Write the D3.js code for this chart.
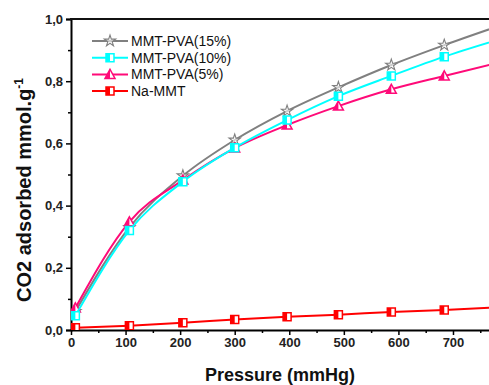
<!DOCTYPE html>
<html>
<head>
<meta charset="utf-8">
<script src="https://cdn.jsdelivr.net/npm/d3@7"></script>
<style>
  body { margin: 0; background: #fff; }
  svg { display: block; font-family: Arial, "Liberation Sans", sans-serif; }
</style>
</head>
<body>
<div id="chart"></div>
<script>
// pressure (mmHg) of the measured points; the last one lies just past the right edge
const pressure = [8, 107, 205, 300, 396, 490, 587, 684, 780];
const pva15 = [0.060, 0.330, 0.496, 0.611, 0.704, 0.780, 0.852, 0.916, 0.975];
const pva10 = [0.046, 0.320, 0.477, 0.586, 0.675, 0.752, 0.817, 0.879, 0.932];
const pva5 = [0.071, 0.348, 0.482, 0.585, 0.659, 0.720, 0.774, 0.817, 0.858];
const naMMT = [0.007, 0.014, 0.023, 0.034, 0.043, 0.049, 0.058, 0.064, 0.073];
const seriesNames = ['MMT-PVA(15%)', 'MMT-PVA(10%)', 'MMT-PVA(5%)', 'Na-MMT'];
const xTicks = [0, 100, 200, 300, 400, 500, 600, 700];
const yTicks = [0, 0.2, 0.4, 0.6, 0.8, 1.0];

const width = 489;
const height = 385;
const margin = {top: 19, right: 0, bottom: 55, left: 71};

const series = [
  {name: seriesNames[0], values: pva15, color: '#808080', symbol: 'star'},
  {name: seriesNames[1], values: pva10, color: '#00ffff', symbol: 'square'},
  {name: seriesNames[2], values: pva5, color: '#ff0a78', symbol: 'triangle'},
  {name: seriesNames[3], values: naMMT, color: '#ff0000', symbol: 'square'}
];

const x = d3.scaleLinear().domain([0, 766]).range([margin.left, width - margin.right]);
const y = d3.scaleLinear().domain([0, 1.0]).range([height - margin.bottom, margin.top]);

const svg = d3.select('#chart')
  .append('svg')
  .attr('width', width)
  .attr('height', height);

svg.append('clipPath')
  .attr('id', 'plot')
  .append('rect')
  .attr('x', margin.left)
  .attr('y', margin.top)
  .attr('width', width - margin.left)
  .attr('height', height - margin.bottom - margin.top);

const fmt = d => d3.format('.1f')(d).replace('.', ',');

// y axis
svg.append('g')
  .attr('transform', 'translate(' + margin.left + ',0)')
  .call(d3.axisLeft(y).tickValues(yTicks).tickFormat(fmt).tickSize(5).tickPadding(3));
svg.append('g')
  .attr('transform', 'translate(' + margin.left + ',0)')
  .call(d3.axisLeft(y).tickValues(d3.range(0.1, 1.0, 0.2)).tickFormat('').tickSize(3))
  .select('.domain').remove();

// x axis
svg.append('g')
  .attr('transform', 'translate(0,' + y(0) + ')')
  .call(d3.axisBottom(x).tickValues(xTicks).tickSize(5).tickPadding(3).tickSizeOuter(0));
svg.append('g')
  .attr('transform', 'translate(0,' + y(0) + ')')
  .call(d3.axisBottom(x).tickValues(d3.range(50, 766, 100)).tickFormat('').tickSize(3))
  .select('.domain').remove();

svg.selectAll('.domain').attr('stroke-width', 2);
svg.selectAll('.tick line').attr('stroke-width', 1.5);
svg.selectAll('.tick text')
  .attr('font-size', 13)
  .attr('font-weight', 'bold')
  .attr('fill', '#222');

// top frame line
svg.append('line')
  .attr('x1', margin.left - 1).attr('x2', width)
  .attr('y1', y(1)).attr('y2', y(1))
  .attr('stroke', '#111')
  .attr('stroke-width', 2);

// axis titles
svg.append('text')
  .attr('x', 280)
  .attr('y', 381)
  .attr('text-anchor', 'middle')
  .attr('font-size', 18)
  .attr('font-weight', 'bold')
  .attr('fill', '#111')
  .text('Pressure (mmHg)');

const yt = svg.append('text')
  .attr('transform', 'translate(31,' + 190 + ') rotate(-90)')
  .attr('text-anchor', 'middle')
  .attr('font-size', 20)
  .attr('font-weight', 'bold')
  .attr('fill', '#111');
yt.append('tspan').text('CO2 adsorbed mmol.g');
yt.append('tspan').attr('dy', -8).attr('font-size', 12).text('-1');

const line = d3.line()
  .x((d, i) => x(pressure[i]))
  .y(d => y(d))
  .curve(d3.curveMonotoneX);

// draws a half-filled marker at cx, cy
let clipCount = 0;
function marker(g, s, cx, cy) {
  const c = g.append('g').attr('transform', 'translate(' + cx + ',' + cy + ')');
  if (s.symbol === 'star') {
    c.append('path')
      .attr('d', d3.symbol(d3.symbolStar, 40)())
      .attr('fill', '#fff')
      .attr('fill-opacity', 0.6)
      .attr('stroke', s.color)
      .attr('stroke-width', 1.1);
    return;
  }
  const r = 4;
  let shape;
  if (s.symbol === 'square') {
    shape = 'M' + (-r) + ',' + (-r) + 'H' + r + 'V' + r + 'H' + (-r) + 'Z';
  } else {
    shape = 'M0,' + (-r - 1) + 'L' + (r + 1) + ',' + r + 'H' + (-r - 1) + 'Z';
  }
  c.append('path').attr('d', shape).attr('fill', '#fff').attr('stroke', s.color).attr('stroke-width', 1.5);
  const half = 'half' + (clipCount++);
  c.append('clipPath').attr('id', half)
    .append('rect').attr('x', -r - 2).attr('y', -r - 2).attr('width', r + 2).attr('height', 2 * r + 4);
  c.append('path').attr('d', shape).attr('fill', s.color).attr('clip-path', 'url(#' + half + ')');
}

const plot = svg.append('g').attr('clip-path', 'url(#plot)');
const drawOrder = [0, 2, 1, 3];
drawOrder.forEach(k => {
  const s = series[k];
  plot.append('path')
    .datum(s.values)
    .attr('d', line)
    .attr('fill', 'none')
    .attr('stroke', s.color)
    .attr('stroke-width', 2);
  s.values.forEach((v, i) => marker(plot, s, x(pressure[i]), y(v)));
});

// legend
const legend = svg.append('g');
series.forEach((s, i) => {
  const ly = 41 + i * 16.7;
  legend.append('line')
    .attr('x1', 92).attr('x2', 128)
    .attr('y1', ly).attr('y2', ly)
    .attr('stroke', s.color)
    .attr('stroke-width', 2);
  marker(legend, s, 110, ly);
  legend.append('text')
    .attr('x', 131)
    .attr('y', ly + 5)
    .attr('font-size', 14)
    .attr('fill', '#111')
    .text(s.name);
});
</script>
</body>
</html>
